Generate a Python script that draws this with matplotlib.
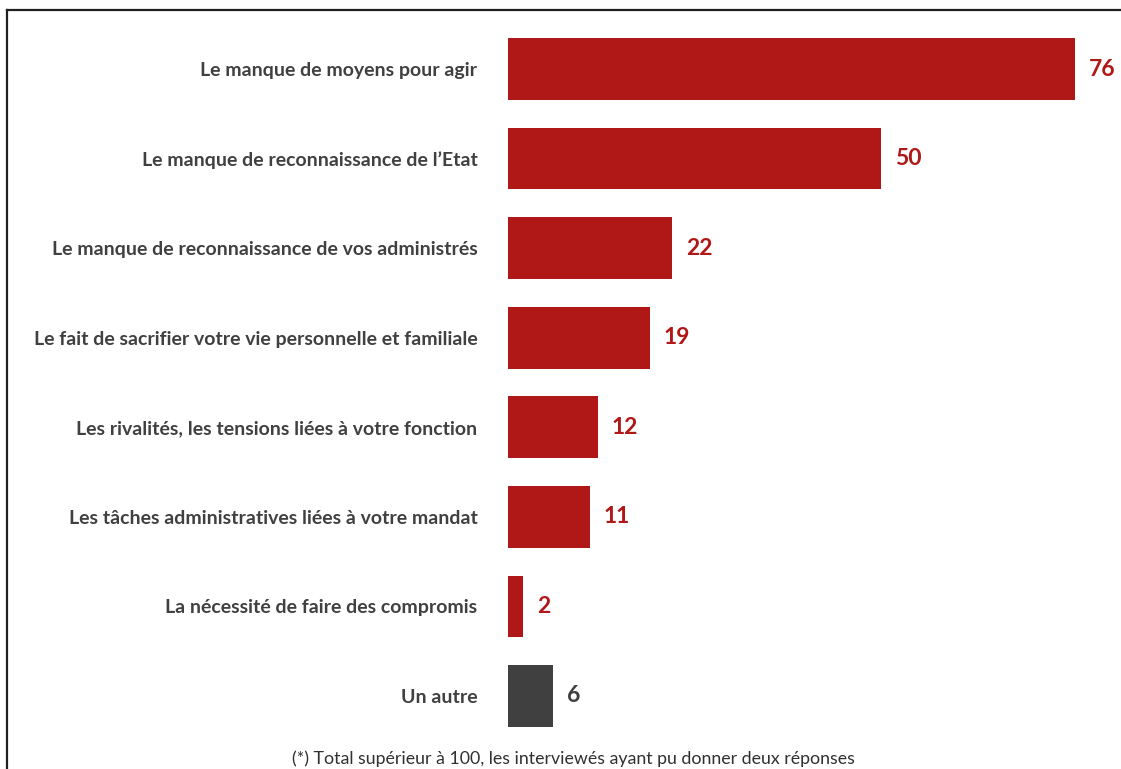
import matplotlib
matplotlib.use('Agg')
import matplotlib.pyplot as plt
from matplotlib.lines import Line2D

# --- données ---
categories = [
    "Le manque de moyens pour agir",
    "Le manque de reconnaissance de l\u2019Etat",
    "Le manque de reconnaissance de vos administrés",
    "Le fait de sacrifier votre vie personnelle et familiale",
    "Les rivalités, les tensions liées à votre fonction",
    "Les tâches administratives liées à votre mandat",
    "La nécessité de faire des compromis",
    "Un autre",
]
valeurs = [76, 50, 22, 19, 12, 11, 2, 6]
note = "(*) Total supérieur à 100, les interviewés ayant pu donner deux réponses"

ROUGE = '#B01818'
GRIS = '#404040'
couleurs = [ROUGE] * 7 + [GRIS]

plt.rcParams['font.family'] = ['Lato', 'DejaVu Sans']

W, H = 1121, 769
fig = plt.figure(figsize=(W / 100, H / 100), dpi=100, facecolor='white')

# axes calés sur les pixels de la référence
x0_px, px_par_unite = 508, 7.46
y0_px, pas_px = 69, 89.57
ax = fig.add_axes([x0_px / W, 0, (W - x0_px) / W, 1])
ax.set_xlim(0, (W - x0_px) / px_par_unite)
ax.set_ylim(7 + (H - 696) / pas_px, -y0_px / pas_px)

pos = list(range(len(categories)))
ax.barh(pos, valeurs, height=0.69, color=couleurs)

for i, v in enumerate(valeurs):
    ax.annotate(str(v), (v, i), xytext=(10, 0), textcoords='offset points',
                va='center', ha='left', fontsize=16.5, fontweight='bold',
                color=couleurs[i])

ax.set_yticks(pos)
ax.set_yticklabels(categories, fontsize=14, fontweight='bold', color=GRIS)
ax.tick_params(axis='y', length=0, pad=22)
ax.set_xticks([])
for s in ax.spines.values():
    s.set_visible(False)

fig.text(573 / W, 1 - 759 / H, note, ha='center', va='center',
         fontsize=12.8, color='#303030')

# cadre (haut et gauche)
fig.add_artist(Line2D([7 / W, 1], [1 - 10 / H, 1 - 10 / H], color='#202020', lw=1.6))
fig.add_artist(Line2D([7 / W, 7 / W], [0, 1 - 10 / H], color='#202020', lw=1.6))

fig.savefig('out.png', dpi=100)
